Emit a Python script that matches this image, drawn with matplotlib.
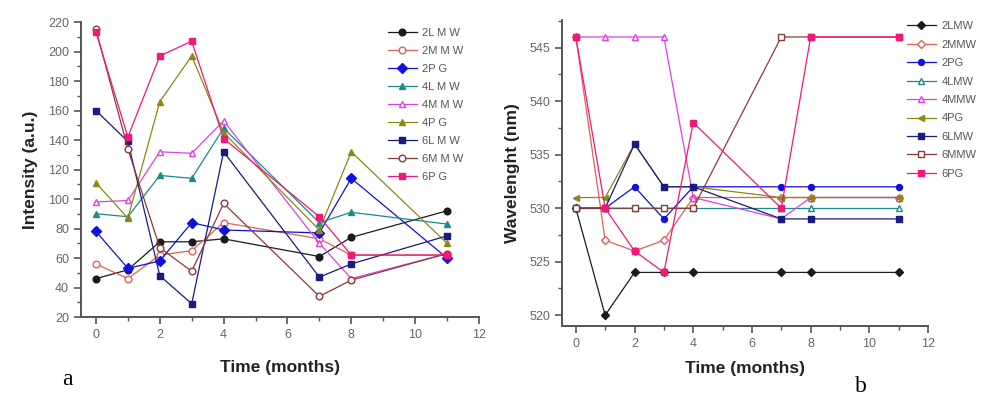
import matplotlib
matplotlib.use("Agg")
import matplotlib.pyplot as plt
from matplotlib.ticker import MultipleLocator

plt.rcParams["font.family"] = ["Liberation Sans", "DejaVu Sans"]

months = [0, 1, 2, 3, 4, 7, 8, 11]
samples = ["2LMW", "2MMW", "2PG", "4LMW", "4MMW", "4PG", "6LMW", "6MMW", "6PG"]
labels_a = ["2L M W", "2M M W", "2P G", "4L M W", "4M M W", "4P G", "6L M W", "6M M W", "6P G"]

# panel a : intensity (a.u.)
int_2LMW = [46, 52, 71, 71, 73, 61, 74, 92]
int_2MMW = [56, 46, 62, 65, 84, 73, 62, 62]
int_2PG = [78, 53, 58, 84, 79, 77, 114, 60]
int_4LMW = [90, 88, 116, 114, 148, 84, 91, 83]
int_4MMW = [98, 99, 132, 131, 153, 70, 46, 63]
int_4PG = [111, 87, 166, 197, 145, 79, 132, 70]
int_6LMW = [160, 139, 48, 29, 132, 47, 56, 75]
int_6MMW = [215, 134, 67, 51, 97, 34, 45, 63]
int_6PG = [213, 142, 197, 207, 141, 88, 62, 62]

# panel b : wavelength (nm)
wl_2LMW = [530, 520, 524, 524, 524, 524, 524, 524]
wl_2MMW = [546, 527, 526, 527, 531, 531, 531, 531]
wl_2PG = [530, 530, 532, 529, 532, 532, 532, 532]
wl_4LMW = [530, 530, 530, 530, 530, 530, 530, 530]
wl_4MMW = [546, 546, 546, 546, 531, 529, 531, 531]
wl_4PG = [531, 531, 536, 532, 532, 531, 531, 531]
wl_6LMW = [530, 530, 536, 532, 532, 529, 529, 529]
wl_6MMW = [530, 530, 530, 530, 530, 546, 546, 546]
wl_6PG = [546, 530, 526, 524, 538, 530, 546, 546]

intensities = [int_2LMW, int_2MMW, int_2PG, int_4LMW, int_4MMW, int_4PG, int_6LMW, int_6MMW, int_6PG]
wavelengths = [wl_2LMW, wl_2MMW, wl_2PG, wl_4LMW, wl_4MMW, wl_4PG, wl_6LMW, wl_6MMW, wl_6PG]

colors = ["#1a1a1a", "#e0605a", "#1010e0", "#1a8a8a", "#e040e0", "#8a8a10", "#1a1a80", "#8a3a3a", "#f01878"]
markers_a = ["o", "o", "D", "^", "^", "^", "s", "o", "s"]
filled_a = [True, False, True, True, False, True, True, False, True]
markers_b = ["D", "D", "o", "^", "^", "<", "s", "s", "s"]
filled_b = [True, False, True, False, False, True, True, False, True]

fig = plt.figure(figsize=(9.85, 3.97), dpi=100)
axa = fig.add_axes([0.0822, 0.2015, 0.404, 0.743])
axb = fig.add_axes([0.5706, 0.179, 0.3716, 0.771])


def style_axis(ax, pad):
    for side in ["top", "right"]:
        ax.spines[side].set_visible(False)
    for side in ["left", "bottom"]:
        ax.spines[side].set_color("#555555")
        ax.spines[side].set_linewidth(1.4)
    ax.tick_params(which="major", direction="out", length=5, width=1.2, color="#555555",
                   labelsize=9, labelcolor="#666666")
    ax.tick_params(which="minor", direction="out", length=3, width=1.0, color="#555555")
    ax.set_xlim(-0.47, 12)
    ax.xaxis.set_major_locator(MultipleLocator(2))
    ax.xaxis.set_minor_locator(MultipleLocator(1))
    ax.set_xlabel("Time (months)", fontsize=12.5, fontweight="bold", color="#222222", labelpad=pad)


for i in range(len(samples)):
    fc = colors[i] if filled_a[i] else "white"
    axa.plot(months, intensities[i], color=colors[i], lw=0.9, marker=markers_a[i], ms=4.8,
             markerfacecolor=fc, markeredgecolor=colors[i], markeredgewidth=1.0, label=labels_a[i])
    fc = colors[i] if filled_b[i] else "white"
    axb.plot(months, wavelengths[i], color=colors[i], lw=0.9, marker=markers_b[i], ms=4.3,
             markerfacecolor=fc, markeredgecolor=colors[i], markeredgewidth=1.0, label=samples[i])

style_axis(axa, 14)
axa.set_ylim(20, 220)
axa.yaxis.set_major_locator(MultipleLocator(20))
axa.yaxis.set_minor_locator(MultipleLocator(10))
axa.set_ylabel("Intensity (a.u.)", fontsize=12.5, fontweight="bold", color="#222222", labelpad=7)

style_axis(axb, 8)
axb.set_ylim(519, 547.6)
axb.yaxis.set_major_locator(MultipleLocator(5))
axb.yaxis.set_minor_locator(MultipleLocator(2.5))
axb.set_ylabel("Wavelenght (nm)", fontsize=12.5, fontweight="bold", color="#222222", labelpad=7)

for ax, anchor, sp in [(axa, (0.76, 0.995), 0.72), (axb, (0.93, 1.01), 0.76)]:
    leg = ax.legend(loc="upper left", bbox_to_anchor=anchor, frameon=False, fontsize=8,
                    handlelength=2.6, handletextpad=0.5, labelspacing=sp, borderaxespad=0)
    for t in leg.get_texts():
        t.set_color("#555555")

fig.text(0.063, 0.03, "a", fontsize=17, family="Liberation Serif")
fig.text(0.868, 0.012, "b", fontsize=17, family="Liberation Serif")

plt.savefig("out.png", dpi=100)
plt.close()
